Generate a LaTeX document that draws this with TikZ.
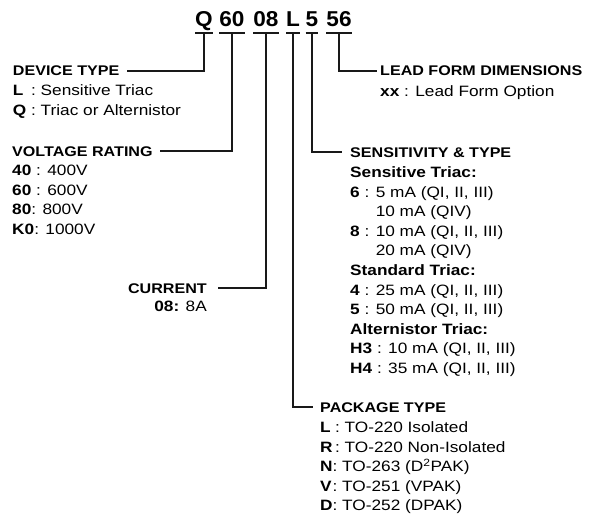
\documentclass[tikz,border=0pt]{standalone}
\usepackage{fontspec}
\setmainfont{Liberation Sans}[FakeStretch=1.15]
\newfontfamily\codefont{Liberation Sans}[FakeStretch=1.05]
\newcommand{\blk}[1]{\begin{tabular}[t]{@{}l@{}}#1\end{tabular}}
\newcommand{\kk}[2]{\rlap{\textbf{#1}}\hphantom{\textbf{#2}}}
\tikzset{
  codebox/.style={font=\codefont\fontsize{21.5}{21.5}\selectfont\bfseries, inner xsep=0pt, inner ysep=0pt,
    text height=15pt, text depth=0pt, outer ysep=6.5pt, outer xsep=0pt},
  hdr/.style={font=\fontsize{14}{14}\selectfont\bfseries, inner sep=0pt, text height=10pt, text depth=0pt},
  body/.style={font=\fontsize{15}{19.6}\selectfont, inner sep=0pt, anchor=base west},
  conn/.style={line width=1.2pt, black!90},
}
\begin{document}
\begin{tikzpicture}[x=1pt,y=-1pt]
\useasboundingbox (0,0) rectangle (589,519);
% code segments
\node[codebox] (cq)  at (204,19) {Q};
\node[codebox] (c60) at (232,19) {60};
\node[codebox] (c08) at (266,19) {08};
\node[codebox] (cl)  at (293,19) {L};
\node[codebox] (c5)  at (312,19) {5};
\node[codebox] (c56) at (339,19) {56};
\foreach \n in {cq,c60,c08,cl,c5,c56}
  \draw[conn] (\n.south west) -- (\n.south east);
% device type
\node[hdr, anchor=west] (dev) at (12.7,71) {DEVICE TYPE};
\node[body] (devb) at (12.7,95.5) {\blk{\kk{L}{Q}\ :\ Sensitive Triac\\ \kk{Q}{Q}\ :\ Triac or Alternistor}};
% lead form
\node[hdr, anchor=west] (lead) at (380,71) {LEAD FORM DIMENSIONS};
\node[body] (leadb) at (380,96.5) {\textbf{xx} : Lead Form Option};
% voltage
\node[hdr, anchor=west] (volt) at (12,151) {VOLTAGE RATING};
\node[body] (voltb) at (12,175.5) {\blk{\textbf{40} : 400V\\ \textbf{60} : 600V\\ \textbf{80}: 800V\\ \textbf{K0}: 1000V}};
% current
\node[hdr, anchor=east] (cur) at (207,288) {CURRENT};
\node[body, anchor=base east] (curb) at (207,311.5) {\textbf{08:} 8A};
% sensitivity
\node[hdr, anchor=west] (sens) at (350,152) {SENSITIVITY \& TYPE};
\node[body] (sensb) at (350,177.5) {\blk{\textbf{Sensitive Triac:}\\
  \textbf{6} : 5 mA (QI, II, III)\\
  \hphantom{\textbf{6} : }10 mA (QIV)\\
  \textbf{8} : 10 mA (QI, II, III)\\
  \hphantom{\textbf{8} : }20 mA (QIV)\\
  \textbf{Standard Triac:}\\
  \textbf{4} : 25 mA (QI, II, III)\\
  \textbf{5} : 50 mA (QI, II, III)\\
  \textbf{Alternistor Triac:}\\
  \textbf{H3} : 10 mA (QI, II, III)\\
  \textbf{H4} : 35 mA (QI, II, III)}};
% package
\node[hdr, anchor=west] (pkg) at (320,407) {PACKAGE TYPE};
\node[body] (pkgb) at (320,432.5) {\blk{\kk{L}{N}\,:\ TO-220 Isolated\\
  \kk{R}{N}\,:\ TO-220 Non-Isolated\\
  \kk{N}{N}:\ TO-263 (D\textsuperscript{2}PAK)\\
  \kk{V}{N}:\ TO-251 (VPAK)\\
  \kk{D}{N}:\ TO-252 (DPAK)}};
% connectors
\draw[conn] (cq.south) |- ([xshift=7pt]dev.east);
\draw[conn] (c60.south) |- ([xshift=7pt]volt.east);
\draw[conn] (c08.south) |- ([xshift=11pt]cur.east);
\draw[conn] (cl.south) |- ([xshift=-7pt]pkg.west);
\draw[conn] (c5.south) |- ([xshift=-8pt]sens.west);
\draw[conn] (c56.south) |- ([xshift=-3.3pt]lead.west);
\end{tikzpicture}
\end{document}
